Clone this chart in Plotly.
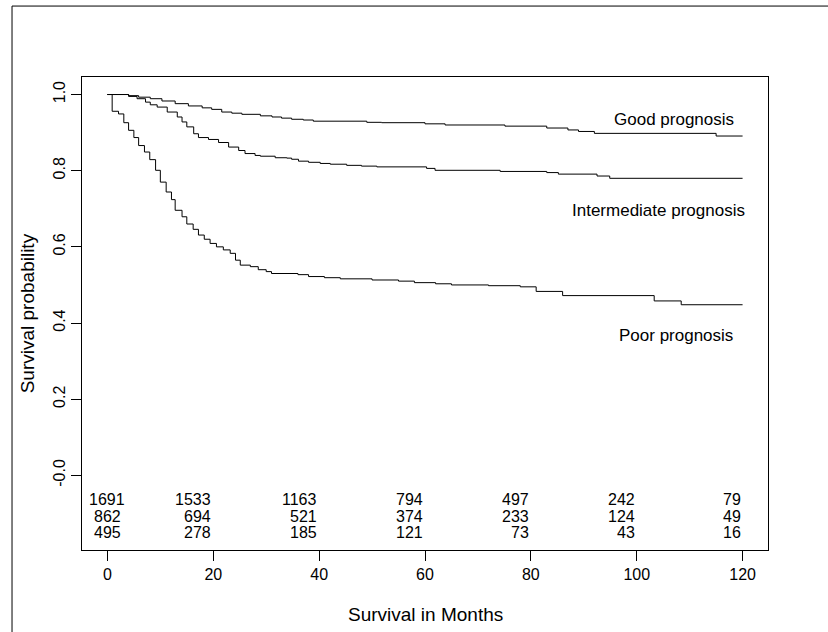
import plotly.graph_objects as go

# ---- data ----
good_t = [0, 4.0, 5.9, 8.1, 10.3, 12.8, 15.3, 17.9, 19.7, 21.6, 23.5, 25.4, 28.9, 31.1, 32.9, 34.8,
          37.0, 38.9, 49.0, 51.8, 60.0, 63.8, 75.1, 83.0, 87.0, 89.0, 92.0, 115.0, 120]
good_s = [1.0, 0.997, 0.993, 0.989, 0.983, 0.976, 0.970, 0.965, 0.961, 0.954, 0.951, 0.948, 0.944, 0.941,
          0.938, 0.935, 0.933, 0.930, 0.927, 0.926, 0.923, 0.920, 0.917, 0.912, 0.907, 0.903, 0.898, 0.891, 0.891]

inter_t = [0, 4.0, 5.6, 7.2, 8.1, 9.4, 11.3, 13.2, 14.1, 15.0, 16.3, 17.2, 19.1, 21.0, 22.9, 24.8, 26.0,
           27.9, 28.9, 31.7, 33.9, 34.8, 36.1, 38.0, 40.2, 42.1, 45.2, 48.0, 50.9, 60.3, 61.9, 74.2, 83.0,
           85.2, 92.5, 94.9, 120]
inter_s = [1.0, 0.995, 0.989, 0.980, 0.973, 0.967, 0.954, 0.941, 0.928, 0.915, 0.897, 0.887, 0.882, 0.874,
           0.862, 0.853, 0.845, 0.840, 0.838, 0.834, 0.833, 0.830, 0.825, 0.822, 0.819, 0.817, 0.814, 0.812,
           0.810, 0.806, 0.801, 0.798, 0.795, 0.791, 0.786, 0.780, 0.780]

poor_t = [0, 0.9, 2.1, 3.1, 4.0, 5.0, 5.9, 7.0, 8.0, 9.1, 10.0, 11.1, 12.1, 12.8, 14.1, 15.0, 16.2, 17.2,
          18.3, 19.4, 20.6, 21.9, 23.2, 24.2, 25.1, 27.0, 28.5, 30.0, 31.0, 36.0, 38.0, 41.0, 44.0, 50.0,
          55.0, 58.0, 62.0, 65.0, 72.0, 78.0, 81.0, 86.0, 103.3, 108.4, 120]
poor_s = [1.0, 0.956, 0.949, 0.926, 0.906, 0.887, 0.866, 0.849, 0.829, 0.801, 0.770, 0.744, 0.724, 0.696,
          0.679, 0.660, 0.646, 0.631, 0.620, 0.609, 0.600, 0.592, 0.583, 0.565, 0.552, 0.548, 0.540, 0.535,
          0.530, 0.527, 0.522, 0.519, 0.516, 0.513, 0.510, 0.506, 0.503, 0.500, 0.498, 0.495, 0.483, 0.472,
          0.458, 0.448, 0.448]

risk_times = [0, 20, 40, 60, 80, 100, 120]
n_good = [1691, 1533, 1163, 794, 497, 242, 79]
n_inter = [862, 694, 521, 374, 233, 124, 49]
n_poor = [495, 278, 185, 121, 73, 43, 16]

group_labels = ["Good prognosis", "Intermediate prognosis", "Poor prognosis"]
y_tickvals = [0, 0.2, 0.4, 0.6, 0.8, 1.0]
y_ticktext = ["-0.0", "0.2", "0.4", "0.6", "0.8", "1.0"]
x_tickvals = [0, 20, 40, 60, 80, 100, 120]

FONT = "Liberation Sans, Arial, Helvetica, sans-serif"

fig = go.Figure()
for t, s in [(good_t, good_s), (inter_t, inter_s), (poor_t, poor_s)]:
    fig.add_trace(go.Scatter(x=t, y=s, mode="lines", line=dict(color="black", width=1, shape="hv"),
                             showlegend=False, hoverinfo="skip"))

annotations = []
# group labels
label_pos = [(107.0, 0.935), (104.2, 0.696), (107.5, 0.367)]
for lab, (lx, ly) in zip(group_labels, label_pos):
    annotations.append(dict(x=lx, y=ly, xref="x", yref="y", text=lab, showarrow=False,
                            xanchor="center", yanchor="middle", font=dict(size=17, color="black", family=FONT)))

# numbers at risk
row_y = [-0.063, -0.107, -0.151]
for row, yy in zip([n_good, n_inter, n_poor], row_y):
    for i, (tt, nn) in enumerate(zip(risk_times, row)):
        annotations.append(dict(x=tt, y=yy, xref="x", yref="y", text=str(nn), showarrow=False,
                                xanchor="center" if i == 0 else "right", yanchor="middle",
                                font=dict(size=16, color="black", family=FONT)))

# axis titles
annotations.append(dict(x=0.5, y=-0.137, xref="paper", yref="paper", text="Survival in Months",
                        showarrow=False, xanchor="center", yanchor="middle",
                        font=dict(size=19, color="black", family=FONT)))
annotations.append(dict(x=-0.079, y=0.5, xref="paper", yref="paper", text="Survival probability",
                        showarrow=False, xanchor="center", yanchor="middle", textangle=-90,
                        font=dict(size=19, color="black", family=FONT)))

# outer page frame: only left and top edges are visible in the reference
frame = [
    dict(type="line", xref="paper", yref="paper", x0=-0.102, x1=-0.102, y0=-0.5, y1=1.150,
         line=dict(color="black", width=1), layer="below"),
    dict(type="line", xref="paper", yref="paper", x0=-0.102, x1=1.6, y0=1.150, y1=1.150,
         line=dict(color="black", width=1), layer="below"),
]

fig.update_layout(
    width=828, height=632,
    margin=dict(l=82, r=60, t=77, b=82),
    paper_bgcolor="white", plot_bgcolor="white",
    font=dict(family=FONT, size=16, color="black"),
    annotations=annotations,
    shapes=frame,
)
fig.update_xaxes(range=[-4.8, 124.8], tickvals=x_tickvals, ticks="outside", ticklen=10, tickwidth=1,
                 tickcolor="black", showline=True, linecolor="black", linewidth=1, mirror=True,
                 showgrid=False, zeroline=False, tickfont=dict(size=16, family=FONT, color="black"))
fig.update_yaxes(range=[-0.196, 1.046], tickvals=y_tickvals, ticktext=y_ticktext, ticks="outside",
                 ticklen=10, tickwidth=1, tickcolor="black", tickangle=-90, showline=True,
                 linecolor="black", linewidth=1, mirror=True, showgrid=False, zeroline=False,
                 tickfont=dict(size=16, family=FONT, color="black"))

fig.write_html("out.html")
